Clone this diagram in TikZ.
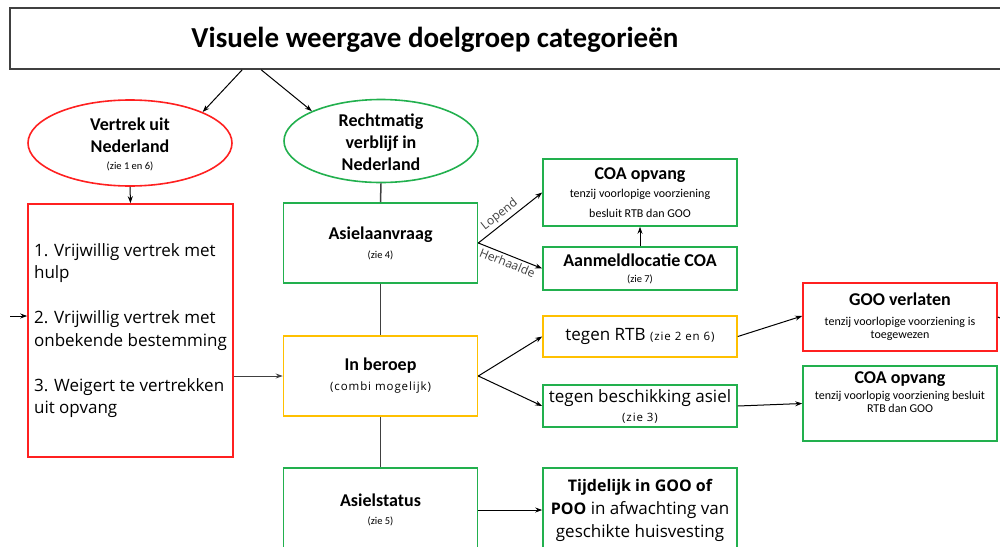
\documentclass[tikz,border=0pt]{standalone}
\usepackage{fontspec}
\setmainfont{Carlito}
\newfontfamily\segoe{Open Sans}
\newfontfamily\segoewijd[LetterSpace=8]{Open Sans}
\usetikzlibrary{arrows.meta,shapes.geometric}

\definecolor{okred}{HTML}{FF2020}
\definecolor{okgreen}{HTML}{22B04E}
\definecolor{okyellow}{HTML}{FFC000}
\definecolor{lijngrijs}{HTML}{404040}

\newcommand{\kop}[1]{\fontsize{18}{#1}\selectfont\bfseries}
\newcommand{\klein}{\fontsize{10.5}{12}\selectfont\mdseries}
\newcommand{\onder}{\fontsize{12}{13}\selectfont\mdseries}
\newcommand{\tekst}[1]{\segoe\fontsize{17}{#1}\selectfont}
\newcommand{\wijd}{\segoewijd\fontsize{11.5}{13}\selectfont\mdseries}

\begin{document}
\begin{tikzpicture}[x=1pt,y=-1pt,
  box/.style={draw,line width=1.6pt,minimum width=194,inner sep=1pt,align=center},
  groen/.style={box,draw=okgreen},
  rood/.style={box,draw=okred},
  geel/.style={box,draw=okyellow},
  ovaal/.style={ellipse,draw,line width=1.6pt,inner sep=0pt},
  pijl/.style={-{Stealth[length=7pt,width=5pt]},line width=1pt},
  lijn/.style={line width=1.5pt,draw=lijngrijs},
  pijltekst/.style={font=\segoe\fontsize{12}{14}\selectfont,text=lijngrijs,sloped,inner sep=2.5pt}
]
\useasboundingbox (0,0) rectangle (1000,546);

% titel
\node[draw=lijngrijs,line width=1.6pt,minimum width=995,minimum height=61,inner sep=0] (title) at (507.5,38.5) {};
\node (titletext) at (435,40) {\fontsize{29}{32}\selectfont\bfseries Visuele weergave doelgroep categorieën};

% ellipsen
\node[ovaal,draw=okred,minimum width=204,minimum height=86] (vertrek) at (130,143) {};
\node[align=center,font=\kop{22}] at ([yshift=-1pt]vertrek) {Vertrek uit\\Nederland\\[-5pt]{\klein (zie 1 en 6)}};
\node[ovaal,draw=okgreen,minimum width=194,minimum height=83] (verblijf) at (381,141) {};
\node[align=center,font=\kop{22}] at ([yshift=-1pt]verblijf) {Rechtmatig\\verblijf in\\Nederland};

% vertrek
\node[rood,minimum width=205,minimum height=253,align=left,font=\tekst{22.5}] (opties) at (130.5,330.5)
  {1. Vrijwillig vertrek met\\hulp\\[22.5pt]
   2. Vrijwillig vertrek met\\onbekende bestemming\\[22.5pt]
   3. Weigert te vertrekken\\uit opvang};
\coordinate (links) at (10,316);

% midden
\node[groen,minimum height=80,font=\kop{19}] (asiel) at (380.5,243) {Asielaanvraag\\{\klein (zie 4)}};
\node[geel,minimum height=80,font=\kop{20}] (beroep) at (380.5,376) {In beroep\\{\wijd (combi mogelijk)}};
\node[groen,minimum height=84,font=\kop{18}] (status) at (380.5,510) {Asielstatus\\{\klein (zie 5)}};

% rechts
\node[groen,minimum height=67,font=\kop{18}] (coa) at (640,192.5) {COA opvang\\{\onder tenzij voorlopige voorziening}\\[2pt]{\onder besluit RTB dan GOO}};
\node[groen,minimum height=43,font=\kop{16}] (aanmeld) at (640,268.5) {Aanmeldlocatie COA\\{\klein (zie 7)}};
\node[geel,minimum height=41,font=\tekst{20}] (rtb) at (640,336.5) {tegen RTB {\wijd (zie 2 en 6)}};
\node[groen,minimum height=42,font=\tekst{19}] (beschikking) at (640,406) {tegen beschikking asiel\\{\wijd (zie 3)}};
\node[groen,minimum height=84,font=\tekst{23}] (tijdelijk) at (640,510)
  {{\fontsize{16}{23}\selectfont\bfseries Tijdelijk in GOO of}\\{\fontsize{16}{23}\selectfont\bfseries POO} in afwachting van\\geschikte huisvesting};
\node[rood,minimum height=68,font=\kop{13}] (verlaten) at (900,317) {GOO verlaten\\[7pt]{\onder tenzij voorlopige voorziening is}\\{\onder toegewezen}};
\node[groen,minimum height=75,font=\kop{13}] (coa2) at (900,403.5) {COA opvang\\[3pt]{\onder tenzij voorlopig voorziening besluit}\\{\onder RTB dan GOO}\\[9pt]\mbox{}};
\coordinate (rechts) at (1000,318);

% verbindingen
\draw[pijl] ([xshift=233pt]title.south west) -- (vertrek.north east);
\draw[pijl] ([xshift=252pt]title.south west) -- (verblijf.north west);
\draw[pijl] (vertrek.south) -- (opties.north);
\draw[pijl] (links) -- (links -| opties.west);
\draw[pijl,draw=lijngrijs] (opties.east |- beroep.west) -- (beroep.west);
\draw[lijn] (verblijf.south) -- (asiel.north);
\draw[lijn] (asiel.south) -- (beroep.north);
\draw[lijn] (beroep.south) -- (status.north);
\draw[pijl] (asiel.east) -- node[pijltekst,above,pos=0.42] {Lopend} (coa.west);
\draw[pijl] (asiel.east) -- node[pijltekst,below,pos=0.5] {Herhaalde} (aanmeld.west);
\draw[pijl] (aanmeld.north) -- (coa.south);
\draw[pijl] (beroep.east) -- (rtb.west);
\draw[pijl] (beroep.east) -- (beschikking.west);
\draw[pijl] (status.east) -- (tijdelijk.west);
\draw[pijl] (rtb.east) -- ([yshift=1pt]verlaten.west);
\draw[pijl] (beschikking.east) -- (coa2.west);
\draw[line width=1pt] (verlaten.east) -- (rechts);
\end{tikzpicture}
\end{document}
